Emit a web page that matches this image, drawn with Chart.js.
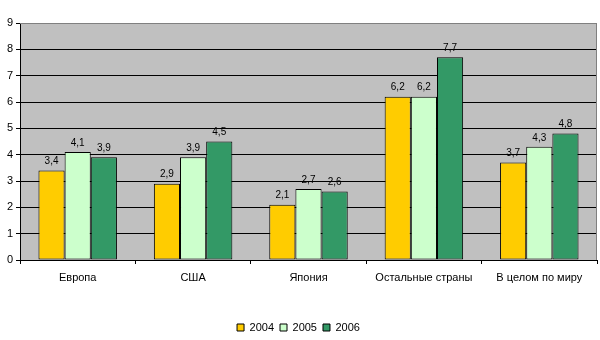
<!DOCTYPE html>
<html>
<head>
<meta charset="utf-8">
<script src="https://cdn.jsdelivr.net/npm/chart.js@4"></script>
<style>
  html, body { margin: 0; padding: 0; background: #fff; }
  #wrap { width: 600px; height: 340px; }
</style>
</head>
<body>
<div id="wrap"><canvas id="chart-canvas" width="600" height="340"></canvas></div>
<script>
const regions = ['Европа', 'США', 'Япония', 'Остальные страны', 'В целом по миру'];
const years = ['2004', '2005', '2006'];
const v2004 = [3.4, 2.9, 2.1, 6.2, 3.7];
const v2005 = [4.1, 3.9, 2.7, 6.2, 4.3];
const v2006 = [3.9, 4.5, 2.6, 7.7, 4.8];
const yTicks = [0, 1, 2, 3, 4, 5, 6, 7, 8, 9];

const colors = ['#ffcc00', '#ccffcc', '#339966'];
const FONT = 'Liberation Sans, Arial, sans-serif';

// gray plot background + gray top/right frame
const plotBg = {
  id: 'plotBg',
  beforeDraw(chart) {
    const { ctx, chartArea: a } = chart;
    ctx.save();
    ctx.fillStyle = '#c0c0c0';
    ctx.fillRect(a.left, a.top, a.right - a.left, a.bottom - a.top);
    ctx.restore();
  },
  afterDatasetsDraw(chart) {
    const { ctx, chartArea: a } = chart;
    ctx.save();
    ctx.strokeStyle = '#808080';
    ctx.lineWidth = 1;
    ctx.beginPath();
    ctx.moveTo(a.left, a.top + 0.5);
    ctx.lineTo(a.right - 0.5, a.top + 0.5);
    ctx.lineTo(a.right - 0.5, a.bottom);
    ctx.stroke();
    ctx.restore();
  }
};

// value labels above bars, comma decimals
const barLabels = {
  id: 'barLabels',
  afterDatasetsDraw(chart) {
    const { ctx } = chart;
    ctx.save();
    ctx.font = '10px ' + FONT;
    ctx.fillStyle = '#000';
    ctx.textAlign = 'center';
    ctx.textBaseline = 'bottom';
    chart.data.datasets.forEach((ds, i) => {
      chart.getDatasetMeta(i).data.forEach((bar, j) => {
        ctx.fillText(String(ds.data[j]).replace('.', ','), bar.x, bar.y - 4);
      });
    });
    ctx.restore();
  }
};

const sets = [v2004, v2005, v2006];

new Chart(document.getElementById('chart-canvas'), {
  type: 'bar',
  data: {
    labels: regions,
    datasets: years.map((y, i) => ({
      label: y,
      data: sets[i],
      backgroundColor: colors[i],
      borderColor: '#000',
      borderWidth: 1,
      borderSkipped: false,
      categoryPercentage: 0.68,
      barPercentage: 1.0
    }))
  },
  options: {
    responsive: false,
    animation: false,
    layout: { padding: { top: 23, right: 3, left: 0, bottom: -3 } },
    scales: {
      x: {
        offset: true,
        grid: {
          offset: true,
          drawOnChartArea: false,
          color: '#000',
          tickLength: 4
        },
        border: { color: '#000' },
        ticks: { color: '#000', font: { family: FONT, size: 11 }, padding: 7, maxRotation: 0 },
        afterFit(s) { s.height = 56; }
      },
      y: {
        min: 0,
        max: 9,
        afterBuildTicks(s) { s.ticks = yTicks.map(v => ({ value: v })); },
        grid: {
          color: ctx => (ctx.tick && ctx.tick.value === 9 ? '#808080' : '#000'),
          tickColor: '#000',
          tickLength: 4
        },
        border: { color: '#000' },
        ticks: { color: '#000', font: { family: FONT, size: 11 }, padding: 3 },
        afterFit(s) { s.width = 20; }
      }
    },
    plugins: {
      legend: {
        position: 'bottom',
        labels: {
          color: '#000',
          font: { family: FONT, size: 11 },
          boxWidth: 7,
          boxHeight: 7,
          padding: 6,
          generateLabels(chart) {
            return chart.data.datasets.map((ds, i) => ({
              text: ds.label,
              fillStyle: ds.backgroundColor,
              strokeStyle: '#000',
              lineWidth: 1,
              datasetIndex: i
            }));
          }
        }
      },
      tooltip: { enabled: false }
    }
  },
  plugins: [plotBg, barLabels]
});
</script>
</body>
</html>
